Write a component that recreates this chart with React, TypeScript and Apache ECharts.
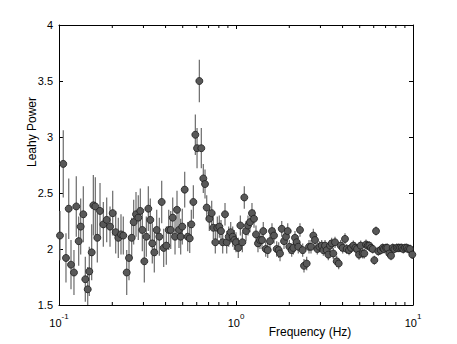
import React, { useEffect, useRef } from "react";
import * as echarts from "echarts";

const freq = [
  0.1013, 0.1057, 0.1095, 0.1135, 0.1169, 0.1215, 0.1252, 0.1292, 0.1326, 0.1372,
  0.1408, 0.1453, 0.1483, 0.153, 0.1563, 0.1604, 0.1646, 0.1705, 0.178, 0.186,
  0.1942, 0.2011, 0.2091, 0.2163, 0.224, 0.2308, 0.2413, 0.2486, 0.2575, 0.2642,
  0.2723, 0.2805, 0.288, 0.2956, 0.3034, 0.3114, 0.3196, 0.328, 0.3366, 0.3455,
  0.3565, 0.3688, 0.3804, 0.3904, 0.4039, 0.4168, 0.4278, 0.439, 0.4524, 0.4642,
  0.4764, 0.487, 0.4972, 0.5131, 0.5336, 0.5477, 0.5593, 0.5741, 0.5892, 0.6024,
  0.6207, 0.6368, 0.6536, 0.6683, 0.6832, 0.7067, 0.729, 0.7444, 0.764, 0.7841,
  0.8047, 0.8228, 0.8412, 0.8668, 0.8862, 0.9096, 0.9335, 0.9581, 0.9781, 1.0,
  1.03, 1.058, 1.086, 1.114, 1.139, 1.169, 1.2, 1.231, 1.264, 1.297,
  1.331, 1.366, 1.403, 1.426, 1.472, 1.511, 1.556, 1.597, 1.64, 1.698,
  1.743, 1.773, 1.813, 1.868, 1.917, 1.96, 2.001, 2.064, 2.108, 2.154,
  2.202, 2.249, 2.299, 2.381, 2.422, 2.508, 2.585, 2.653, 2.734, 2.795,
  2.88, 2.956, 3.05, 3.114, 3.184, 3.255, 3.323, 3.397, 3.473, 3.546,
  3.626, 3.707, 3.804, 3.904, 4.007, 4.129, 4.221, 4.35, 4.465, 4.6,
  4.721, 4.827, 4.954, 5.065, 5.199, 5.308, 5.427, 5.549, 5.665, 5.791,
  5.921, 6.046, 6.181, 6.368, 6.569, 6.743, 6.859, 7.04, 7.16, 7.349,
  7.513, 7.681, 7.843, 8.091, 8.261, 8.446, 8.636, 8.817, 9.013, 9.213,
  9.406, 9.618, 9.909,
];

const power = [
  2.12, 2.76, 1.92, 2.36, 1.86, 1.79, 2.38, 2.07, 2.2, 2.31,
  1.73, 1.64, 1.8, 1.97, 2.39, 2.38, 2.1, 2.34, 2.22, 2.26,
  2.2, 2.32, 2.15, 2.1, 2.13, 2.12, 1.79, 1.92, 2.1, 2.24,
  2.31, 2.28, 2.34, 2.17, 1.89, 2.11, 2.36, 2.26, 2.05, 1.97,
  2.17, 2.11, 2.42, 2.01, 2.03, 2.17, 2.17, 2.28, 2.11, 2.35,
  2.17, 2.11, 2.2, 2.53, 2.11, 2.095, 2.22, 2.42, 3.02, 2.9,
  3.5, 2.9, 2.63, 2.58, 2.37, 2.27, 2.32, 2.19, 2.06, 2.19,
  2.2, 2.16, 2.06, 2.31, 2.06, 2.11, 2.15, 2.11, 2.08, 2.06,
  2.01, 2.21, 2.06, 2.46, 2.16, 2.21, 2.24, 2.32, 2.27, 2.13,
  2.05, 2.08, 2.08, 2.16, 2.0, 1.99, 2.07, 2.16, 2.12, 2.0,
  1.99, 1.96, 2.18, 2.07, 2.11, 2.16, 2.02, 1.99, 2.01, 2.1,
  2.06, 2.02, 2.17, 1.99, 1.85, 1.87, 2.02, 2.02, 2.12, 2.08,
  2.0, 2.02, 2.03, 1.99, 2.03, 1.99, 1.95, 2.03, 2.05, 1.96,
  2.06, 1.89, 1.87, 2.03, 2.01, 2.09, 2.0, 1.99, 2.01, 2.03,
  2.01, 2.0, 1.95, 2.03, 1.96, 1.96, 2.04, 2.03, 2.03, 2.01,
  2.0, 1.9, 2.16, 1.98, 1.99, 2.01, 2.0, 2.01, 2.01, 1.96,
  1.94, 2.01, 2.0, 2.01, 2.01, 2.01, 2.01, 2.0, 2.01, 2.01,
  2.0, 2.0, 1.95,
];

const errs = [
  0.22, 0.3, 0.22, 0.27, 0.22, 0.2, 0.27, 0.22, 0.25, 0.25,
  0.2, 0.2, 0.22, 0.25, 0.27, 0.26, 0.22, 0.25, 0.2, 0.2,
  0.18, 0.2, 0.19, 0.18, 0.18, 0.17, 0.2, 0.2, 0.18, 0.2,
  0.2, 0.2, 0.2, 0.19, 0.19, 0.18, 0.2, 0.19, 0.18, 0.18,
  0.18, 0.17, 0.19, 0.17, 0.17, 0.18, 0.17, 0.18, 0.16, 0.17,
  0.16, 0.16, 0.16, 0.16, 0.13, 0.13, 0.13, 0.15, 0.18, 0.18,
  0.19, 0.18, 0.13, 0.13, 0.11, 0.11, 0.11, 0.1, 0.1, 0.1,
  0.1, 0.1, 0.1, 0.1, 0.1, 0.09, 0.09, 0.09, 0.09, 0.09,
  0.09, 0.09, 0.09, 0.1, 0.09, 0.09, 0.09, 0.09, 0.08, 0.08,
  0.08, 0.08, 0.08, 0.08, 0.07, 0.07, 0.07, 0.07, 0.07, 0.07,
  0.07, 0.07, 0.07, 0.07, 0.07, 0.07, 0.06, 0.06, 0.06, 0.06,
  0.06, 0.06, 0.06, 0.06, 0.06, 0.06, 0.06, 0.06, 0.06, 0.05,
  0.05, 0.05, 0.05, 0.05, 0.05, 0.05, 0.05, 0.05, 0.05, 0.05,
  0.05, 0.05, 0.05, 0.05, 0.05, 0.05, 0.045, 0.045, 0.045, 0.045,
  0.045, 0.045, 0.045, 0.045, 0.045, 0.045, 0.045, 0.04, 0.04, 0.04,
  0.04, 0.04, 0.04, 0.04, 0.04, 0.04, 0.04, 0.04, 0.04, 0.04,
  0.04, 0.04, 0.04, 0.04, 0.04, 0.04, 0.04, 0.04, 0.04, 0.04,
  0.04, 0.04, 0.04,
];

const minorTicks = [0.2, 0.3, 0.4, 0.5, 0.6, 0.7, 0.8, 0.9, 2, 3, 4, 5, 6, 7, 8, 9];

const yMin = 1.5;
const yMax = 4;
const yStep = 0.5;

const FONT = "'Liberation Sans', Arial, Helvetica, sans-serif";

export default function App() {
  const ref = useRef<HTMLDivElement>(null);

  useEffect(() => {
    if (!ref.current) return;
    const chart = echarts.init(ref.current, null, { renderer: "svg" });
    const points = freq.map((f, i) => [f, power[i], errs[i]]);

    const axisCommon = {
      type: "log" as const,
      logBase: 10,
      min: 0.1,
      max: 10,
      axisLine: { show: true, onZero: false, lineStyle: { color: "#000", width: 1 } },
      axisTick: { show: true, inside: true, length: 4, lineStyle: { color: "#000" } },
      splitLine: { show: false },
    };
    const yCommon = {
      type: "value" as const,
      min: yMin,
      max: yMax,
      interval: yStep,
      axisLine: { show: true, onZero: false, lineStyle: { color: "#000", width: 1 } },
      axisTick: { show: true, inside: true, length: 4, lineStyle: { color: "#000" } },
      splitLine: { show: false },
    };

    chart.setOption({
      animation: false,
      backgroundColor: "#fff",
      grid: { left: 59, top: 25, width: 354, height: 280, containLabel: false },
      xAxis: [
        {
          ...axisCommon,
          position: "bottom",
          axisLabel: {
            margin: 7,
            color: "#000",
            fontFamily: FONT,
            formatter: (v: number) => {
              const e = Math.round(Math.log10(v));
              return `{b|10}{s|${e}}`;
            },
            rich: {
              b: { fontSize: 11, fontFamily: FONT, color: "#000", verticalAlign: "bottom", lineHeight: 16 },
              s: { fontSize: 8, fontFamily: FONT, color: "#000", verticalAlign: "top", lineHeight: 8, padding: [0, 0, 6, 0] },
            },
          },
        },
        { ...axisCommon, position: "top", axisLabel: { show: false } },
      ],
      yAxis: [
        {
          ...yCommon,
          position: "left",
          axisLabel: { margin: 6, color: "#000", fontSize: 11, fontFamily: FONT },
        },
        { ...yCommon, position: "right", axisLabel: { show: false } },
      ],
      graphic: [
        {
          type: "text",
          x: 32,
          y: 132,
          rotation: Math.PI / 2,
          style: {
            text: "Leahy Power",
            fontSize: 12,
            fontFamily: FONT,
            fill: "#000",
            align: "center",
            verticalAlign: "middle",
          },
        },
        {
          type: "text",
          x: 310,
          y: 332,
          style: {
            text: "Frequency (Hz)",
            fontSize: 12,
            fontFamily: FONT,
            fill: "#000",
            align: "center",
            verticalAlign: "middle",
          },
        },
      ],
      series: [
        {
          type: "custom",
          xAxisIndex: 0,
          yAxisIndex: 0,
          silent: true,
          data: minorTicks.map((v) => [v, yMin]),
          encode: { x: 0, y: 1 },
          renderItem: (_p: any, api: any) => {
            const v = api.value(0);
            const b = api.coord([v, yMin]);
            const t = api.coord([v, yMax]);
            return {
              type: "group",
              children: [
                { type: "line", shape: { x1: b[0], y1: b[1], x2: b[0], y2: b[1] - 3 }, style: { stroke: "#000", lineWidth: 1 } },
                { type: "line", shape: { x1: t[0], y1: t[1], x2: t[0], y2: t[1] + 3 }, style: { stroke: "#000", lineWidth: 1 } },
              ],
            };
          },
        },
        {
          type: "custom",
          xAxisIndex: 0,
          yAxisIndex: 0,
          silent: true,
          clip: true,
          data: points,
          encode: { x: 0, y: 1 },
          renderItem: (_p: any, api: any) => {
            const x = api.value(0);
            const y = api.value(1);
            const e = api.value(2);
            const p1 = api.coord([x, y - e]);
            const p2 = api.coord([x, y + e]);
            return {
              type: "line",
              shape: { x1: p1[0], y1: p1[1], x2: p2[0], y2: p2[1] },
              style: { stroke: "#6a6a6a", lineWidth: 1.2 },
            };
          },
        },
        {
          type: "scatter",
          xAxisIndex: 0,
          yAxisIndex: 0,
          silent: true,
          data: points.map((p) => [p[0], p[1]]),
          symbol: "circle",
          symbolSize: 7,
          itemStyle: { color: "#585858", borderColor: "#1e1e1e", borderWidth: 0.8, opacity: 1 },
        },
      ],
    });
    return () => chart.dispose();
  }, []);

  return (
    <div
      ref={ref}
      style={{ position: "fixed", left: 0, top: 0, width: 457, height: 344, background: "#fff" }}
    />
  );
}
